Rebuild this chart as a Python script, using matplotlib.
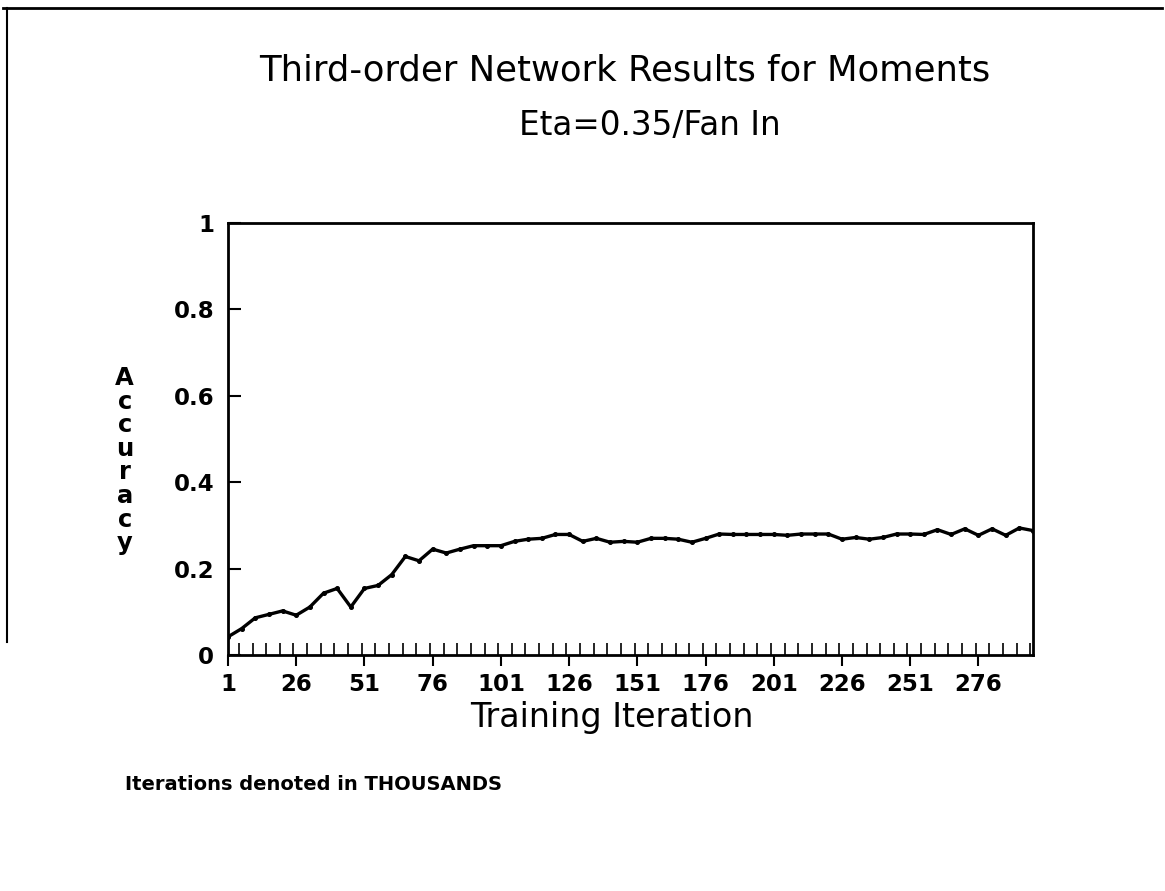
import matplotlib
matplotlib.use("Agg")
import matplotlib.pyplot as plt
from matplotlib.ticker import FixedLocator, MultipleLocator

plt.rcParams["font.family"] = ["DejaVu Sans"]

# Training iteration (thousands), one reading every 5
iterations = list(range(1, 297, 5))

accuracy = [0.042, 0.061, 0.086, 0.094, 0.102, 0.092, 0.111, 0.143, 0.154, 0.111,
            0.154, 0.161, 0.186, 0.228, 0.218, 0.245, 0.236, 0.245, 0.253, 0.253,
            0.253, 0.263, 0.268, 0.270, 0.279, 0.279, 0.263, 0.270, 0.261, 0.263,
            0.261, 0.270, 0.270, 0.268, 0.261, 0.270, 0.280, 0.279, 0.279, 0.279,
            0.279, 0.277, 0.280, 0.280, 0.280, 0.268, 0.272, 0.268, 0.272, 0.280,
            0.280, 0.279, 0.290, 0.279, 0.292, 0.277, 0.292, 0.277, 0.294, 0.288]

x_ticks = [1, 26, 51, 76, 101, 126, 151, 176, 201, 226, 251, 276]
y_ticks = [0, 0.2, 0.4, 0.6, 0.8, 1]
y_tick_labels = ["0", "0.2", "0.4", "0.6", "0.8", "1"]

fig = plt.figure(figsize=(11.65, 8.91), dpi=100)
ax = fig.add_axes([0.1957, 0.2649, 0.691, 0.4848])

ax.plot(iterations, accuracy, color="black", lw=2.4, marker="o", ms=2.6)

ax.set_xlim(1, 296)
ax.set_ylim(0, 1)

ax.xaxis.set_major_locator(FixedLocator(x_ticks))
ax.xaxis.set_minor_locator(MultipleLocator(5))
ax.set_xticks(x_ticks)
ax.set_xticklabels([str(t) for t in x_ticks], fontsize=16.5, fontweight="bold")
ax.set_yticks(y_ticks)
ax.set_yticklabels(y_tick_labels, fontsize=16.5, fontweight="bold")
ax.tick_params(axis="x", which="major", direction="out", length=8, width=1.5, pad=5)
ax.tick_params(axis="x", which="minor", direction="in", length=9, width=1.2)
ax.tick_params(axis="y", direction="in", length=9, width=1.5, pad=10)

for s in ax.spines.values():
    s.set_linewidth(2)

# axis titles
fig.text(0.525, 0.195, "Training Iteration", fontsize=24, ha="center", va="center")
fig.text(0.107, 0.483, "\n".join("Accuracy"), fontsize=17.5, fontweight="bold",
         ha="center", va="center", linespacing=0.98)

fig.text(0.536, 0.921, "Third-order Network Results for Moments", fontsize=25.5,
         ha="center", va="center")
fig.text(0.558, 0.859, "Eta=0.35/Fan In", fontsize=23.5, ha="center", va="center")

fig.text(0.107, 0.119, "Iterations denoted in THOUSANDS", fontsize=14,
         fontweight="bold", ha="left", va="center")

# scanned page border
fig.add_artist(plt.Line2D([0.003, 0.997], [0.991, 0.991], color="black", lw=2,
                          transform=fig.transFigure))
fig.add_artist(plt.Line2D([0.006, 0.006], [0.991, 0.28], color="black", lw=1.5,
                          transform=fig.transFigure))

fig.savefig("out.png", dpi=100)
